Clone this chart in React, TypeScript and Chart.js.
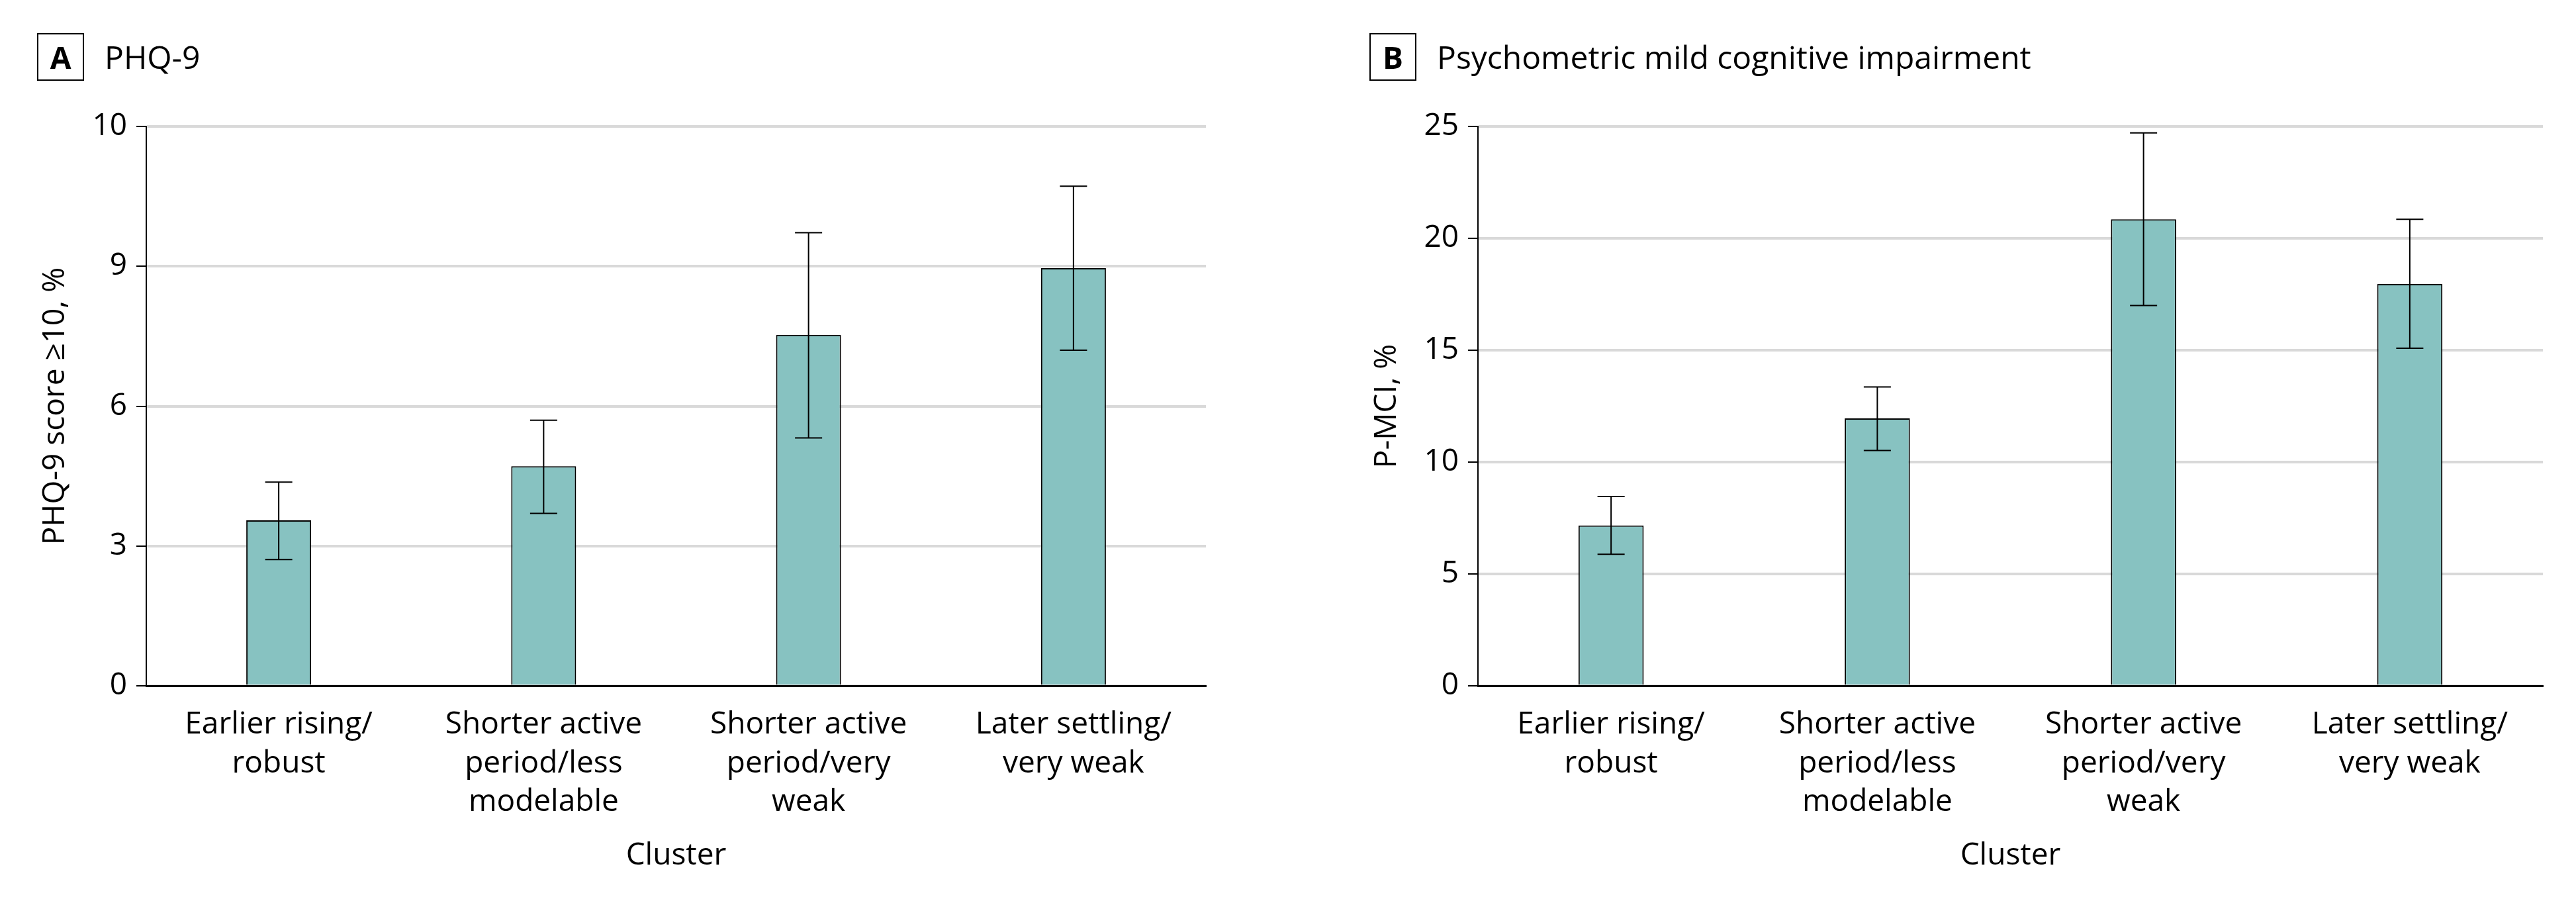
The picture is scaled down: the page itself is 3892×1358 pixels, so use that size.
import React, { useEffect, useRef } from "react";
import { Chart, registerables } from "chart.js";

Chart.register(...registerables);

// ---------- data ----------
const categories: string[][] = [
  ["Earlier rising/", "robust"],
  ["Shorter active", "period/less", "modelable"],
  ["Shorter active", "period/very", "weak"],
  ["Later settling/", "very weak"],
];

// Panel A (PHQ-9). The printed axis is linear in steps of 3 with the top tick printed as "10".
const phqValues = [3.55, 4.71, 7.53, 8.96];
const phqLower = [2.71, 3.7, 5.32, 7.2];
const phqUpper = [4.37, 5.7, 9.72, 10.72];
const phqTickValues = [0, 3, 6, 9, 12];
const phqTickLabels = ["0", "3", "6", "9", "10"];

// Panel B (P-MCI)
const mciValues = [7.17, 11.95, 20.85, 17.96];
const mciLower = [5.88, 10.52, 17.0, 15.09];
const mciUpper = [8.46, 13.36, 24.71, 20.85];
const mciTickValues = [0, 5, 10, 15, 20, 25];
const mciTickLabels = ["0", "5", "10", "15", "20", "25"];

const FONT = "'Open Sans', 'Noto Sans', sans-serif";
const BAR_COLOR = "#87c2c1";

const errorBarPlugin = {
  id: "errorBars",
  afterDatasetsDraw(chart: any, _args: any, opts: any) {
    const { ctx } = chart;
    const x = chart.scales.x;
    const y = chart.scales.y;
    const lower: number[] = opts.lower || [];
    const upper: number[] = opts.upper || [];
    const half = 20.5;
    ctx.save();
    ctx.strokeStyle = "#000";
    ctx.lineWidth = 2;
    for (let i = 0; i < lower.length; i++) {
      const px = x.getPixelForValue(i);
      const pLo = y.getPixelForValue(lower[i]);
      const pHi = y.getPixelForValue(upper[i]);
      ctx.beginPath();
      ctx.moveTo(px, pLo);
      ctx.lineTo(px, pHi);
      ctx.moveTo(px - half, pHi);
      ctx.lineTo(px + half, pHi);
      ctx.moveTo(px - half, pLo);
      ctx.lineTo(px + half, pLo);
      ctx.stroke();
    }
    ctx.restore();
  },
};

type PanelProps = {
  values: number[];
  lower: number[];
  upper: number[];
  tickValues: number[];
  tickLabels: string[];
  yTitle: string;
  yAxisWidth: number;
  yTitlePad: number;
  rightPad: number;
};

function Panel(p: PanelProps) {
  const ref = useRef<HTMLCanvasElement | null>(null);
  useEffect(() => {
    if (!ref.current) return;
    const max = p.tickValues[p.tickValues.length - 1];
    const chart = new Chart(ref.current, {
      type: "bar",
      data: {
        labels: categories as any,
        datasets: [
          {
            data: p.values,
            backgroundColor: BAR_COLOR,
            borderColor: "#000",
            borderWidth: 2,
            barPercentage: 0.245,
            categoryPercentage: 1,
          },
        ],
      },
      plugins: [errorBarPlugin],
      options: {
        animation: false,
        responsive: false,
        devicePixelRatio: 1,
        layout: { padding: { left: 0, right: p.rightPad, top: 191, bottom: 38 } },
        plugins: {
          legend: { display: false },
          tooltip: { enabled: false },
          errorBars: { lower: p.lower, upper: p.upper },
        } as any,
        scales: {
          x: {
            grid: { display: false },
            border: { display: true, color: "#000", width: 3 },
            ticks: {
              color: "#000",
              padding: 22,
              maxRotation: 0,
              autoSkip: false,
              font: { family: FONT, size: 46, lineHeight: 1.27 },
            },
            title: {
              display: true,
              text: "Cluster",
              color: "#000",
              padding: { top: 0, bottom: 0 },
              font: { family: FONT, size: 46, lineHeight: 1.2 },
            },
            afterFit: (scale: any) => {
              scale.height = 284;
            },
          },
          y: {
            min: 0,
            max: max,
            grid: {
              color: "#d9d9d9",
              lineWidth: 4,
              drawTicks: true,
              tickLength: 15,
              tickColor: "#000",
              tickWidth: 2,
            },
            border: { display: true, color: "#000", width: 2 },
            afterBuildTicks: (scale: any) => {
              scale.ticks = p.tickValues.map((v) => ({ value: v }));
            },
            ticks: {
              color: "#000",
              padding: 14,
              font: { family: FONT, size: 46 },
              callback: (value: any) => {
                const idx = p.tickValues.indexOf(Number(value));
                return idx >= 0 ? p.tickLabels[idx] : "";
              },
            },
            title: {
              display: true,
              text: p.yTitle,
              color: "#000",
              padding: { top: p.yTitlePad, bottom: 0 },
              font: { family: FONT, size: 46, lineHeight: 1.2 },
            },
            afterFit: (scale: any) => {
              scale.width = p.yAxisWidth;
            },
          },
        },
      } as any,
    });
    return () => chart.destroy();
  }, []);
  return <canvas ref={ref} width={1946} height={1358} style={{ display: "block" }} />;
}

function PanelTitle({ letter, text, boxLeft, textLeft }: { letter: string; text: string; boxLeft: number; textLeft: number }) {
  return (
    <>
      <div
        style={{
          position: "absolute",
          left: boxLeft,
          top: 50,
          width: 71,
          height: 72,
          boxSizing: "border-box",
          border: "2px solid #000",
          display: "flex",
          alignItems: "center",
          justifyContent: "center",
          fontFamily: FONT,
          fontWeight: 700,
          fontSize: 46,
          lineHeight: 1,
          color: "#000",
        }}
      >
        {letter}
      </div>
      <div
        style={{
          position: "absolute",
          left: textLeft,
          top: 62,
          fontFamily: FONT,
          fontSize: 48,
          lineHeight: "48px",
          color: "#000",
          whiteSpace: "nowrap",
        }}
      >
        {text}
      </div>
    </>
  );
}

export default function App() {
  return (
    <div style={{ position: "absolute", left: 0, top: 0, width: 3892, height: 1358, background: "#fff", overflow: "hidden" }}>
      <div style={{ position: "absolute", left: 0, top: 0 }}>
        <Panel
          values={phqValues}
          lower={phqLower}
          upper={phqUpper}
          tickValues={phqTickValues}
          tickLabels={phqTickLabels}
          yTitle="PHQ-9 score ≥10, %"
          yAxisWidth={221}
          yTitlePad={56}
          rightPad={124}
        />
      </div>
      <div style={{ position: "absolute", left: 1946, top: 0 }}>
        <Panel
          values={mciValues}
          lower={mciLower}
          upper={mciUpper}
          tickValues={mciTickValues}
          tickLabels={mciTickLabels}
          yTitle="P-MCI, %"
          yAxisWidth={287}
          yTitlePad={122}
          rightPad={50}
        />
      </div>
      <PanelTitle letter="A" text="PHQ-9" boxLeft={56} textLeft={158} />
      <PanelTitle letter="B" text="Psychometric mild cognitive impairment" boxLeft={2069} textLeft={2171} />
    </div>
  );
}
